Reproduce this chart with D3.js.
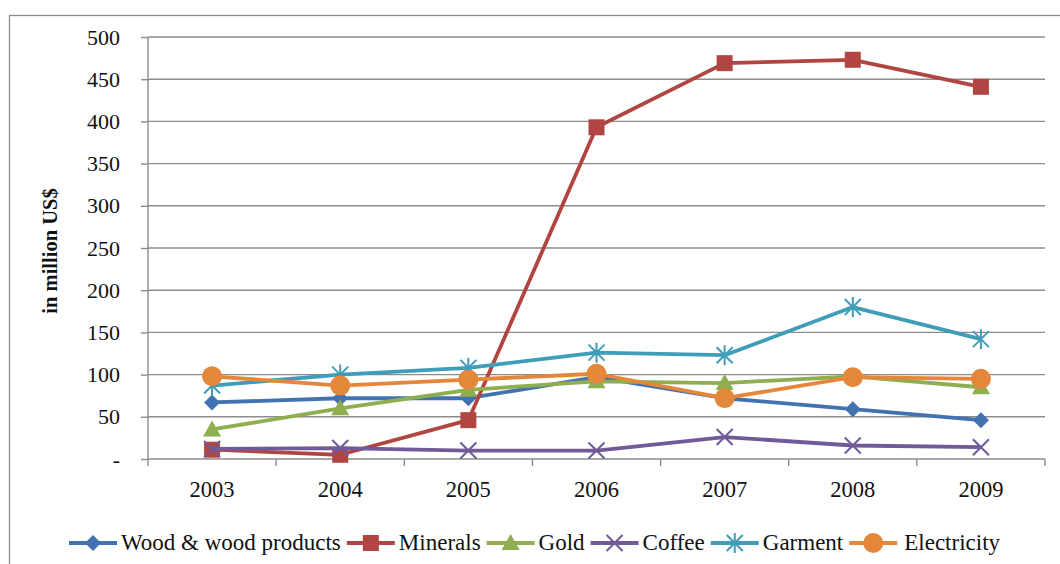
<!DOCTYPE html>
<html>
<head>
<meta charset="utf-8">
<title>exports</title>
<script src="https://cdn.jsdelivr.net/npm/d3@7"></script>
<style>
  body { margin:0; background:#fff; }
</style>
</head>
<body>
<svg id="chart" width="1060" height="564"></svg>
<script>
// values (million US$)
const years = ["2003","2004","2005","2006","2007","2008","2009"];
const wood        = [67, 72, 72, 97, 72, 59, 46];
const minerals    = [11, 5, 46, 393, 469, 473, 441];
const gold        = [35, 60, 82, 92, 90, 98, 85];
const coffee      = [12, 13, 10, 10, 26, 16, 14];
const garment     = [87, 100, 108, 126, 123, 180, 142];
const electricity = [98, 87, 94, 101, 72, 97, 95];
const yTicks = [0, 50, 100, 150, 200, 250, 300, 350, 400, 450, 500];

const series = [
  {name:"Wood & wood products", vals:wood,        col:"#4272b0", mk:"diamond"},
  {name:"Minerals",             vals:minerals,    col:"#b04542", mk:"square"},
  {name:"Gold",                 vals:gold,        col:"#8fae4f", mk:"triangle"},
  {name:"Coffee",               vals:coffee,      col:"#715a98", mk:"x"},
  {name:"Garment",              vals:garment,     col:"#3f9db8", mk:"star"},
  {name:"Electricity",          vals:electricity, col:"#e5873b", mk:"circle"}
];

const FONT = '"Liberation Serif", serif';
const svg = d3.select("#chart");
const grid = "#8c8c8c";

// outer frame (right/bottom edges are off the picture)
svg.append("rect").attr("x",9.5).attr("y",15.5).attr("width",1100).attr("height",600)
  .attr("fill","none").attr("stroke",grid).attr("stroke-width",1.3);

const x = d3.scaleBand().domain(years).range([148, 1045]);
const y = d3.scaleLinear().domain([0, 500]).range([459, 37]);
const cx = d => x(d) + x.bandwidth()/2;

// gridlines
svg.append("g").selectAll("line").data(yTicks.filter(v => v > 0)).join("line")
  .attr("x1",148).attr("x2",1045).attr("y1",d=>y(d)).attr("y2",d=>y(d))
  .attr("stroke",grid).attr("stroke-width",1.4);

// y axis
const ya = svg.append("g").attr("transform","translate(148,0)")
  .call(d3.axisLeft(y).tickValues(yTicks).tickSize(7).tickPadding(21)
    .tickFormat(d => d === 0 ? "-" : d));
ya.select(".domain").attr("stroke",grid).attr("stroke-width",1.4).attr("d","M0,37V459");
ya.selectAll(".tick line").attr("stroke",grid).attr("stroke-width",1.4);
ya.selectAll(".tick text").style("font-family",FONT).style("font-size","22px").attr("fill","#111");

// x axis, ticks between categories
const xa = svg.append("g").attr("transform","translate(0,459)");
xa.append("line").attr("x1",148).attr("x2",1045).attr("stroke",grid).attr("stroke-width",1.4);
xa.selectAll("line.tk").data(d3.range(years.length + 1)).join("line").attr("class","tk")
  .attr("x1",i => 148 + i*x.step()).attr("x2",i => 148 + i*x.step())
  .attr("y1",0).attr("y2",7).attr("stroke",grid).attr("stroke-width",1.4);
xa.selectAll("text").data(years).join("text")
  .attr("x",cx).attr("y",38).attr("text-anchor","middle")
  .style("font-family",FONT).style("font-size","22.5px").attr("fill","#111").text(d=>d);

// y title
svg.append("text").attr("transform","translate(57,251) rotate(-90)")
  .attr("text-anchor","middle").style("font-family",FONT).style("font-size","20.5px")
  .style("font-weight","bold").attr("fill","#111")
  .text("in million US$");

function marker(g, type, col) {
  if (type === "diamond") g.append("path").attr("d","M0,-8L8,0L0,8L-8,0Z").attr("fill",col);
  else if (type === "square") g.append("rect").attr("x",-8).attr("y",-8).attr("width",16).attr("height",16).attr("fill",col);
  else if (type === "triangle") g.append("path").attr("d","M0,-9L9,7L-9,7Z").attr("fill",col);
  else if (type === "circle") g.append("circle").attr("r",10).attr("fill",col);
  else if (type === "x") g.append("path").attr("d","M-8,-8L8,8M-8,8L8,-8").attr("stroke",col).attr("stroke-width",2);
  else if (type === "star") g.append("path").attr("d","M-8,-8L8,8M-8,8L8,-8M0,-10V10").attr("stroke",col).attr("stroke-width",2);
}

const line = d3.line().x((v,i) => cx(years[i])).y(v => y(v));
const plot = svg.append("g");
series.forEach(s => {
  const g = plot.append("g");
  g.append("path").attr("d", line(s.vals)).attr("fill","none")
    .attr("stroke", s.col).attr("stroke-width",3.8).attr("stroke-linejoin","round");
  s.vals.forEach((v,i) => {
    const m = g.append("g").attr("transform",`translate(${cx(years[i])},${y(v)})`);
    marker(m, s.mk, s.col);
  });
});

// legend
const lg = svg.append("g");
let lx = 69;
series.forEach(s => {
  const it = lg.append("g").attr("transform",`translate(${lx},543)`);
  it.append("line").attr("x1",0).attr("x2",48).attr("stroke",s.col).attr("stroke-width",3.8);
  const m = it.append("g").attr("transform","translate(24,0)");
  marker(m, s.mk, s.col);
  const off = s.name === "Electricity" ? 55 : 52;
  const t = it.append("text").attr("x",off).attr("y",7)
    .style("font-family",FONT).style("font-size","23px").attr("fill","#111").text(s.name);
  lx += off + t.node().getComputedTextLength() + 6;
});
</script>
</body>
</html>
